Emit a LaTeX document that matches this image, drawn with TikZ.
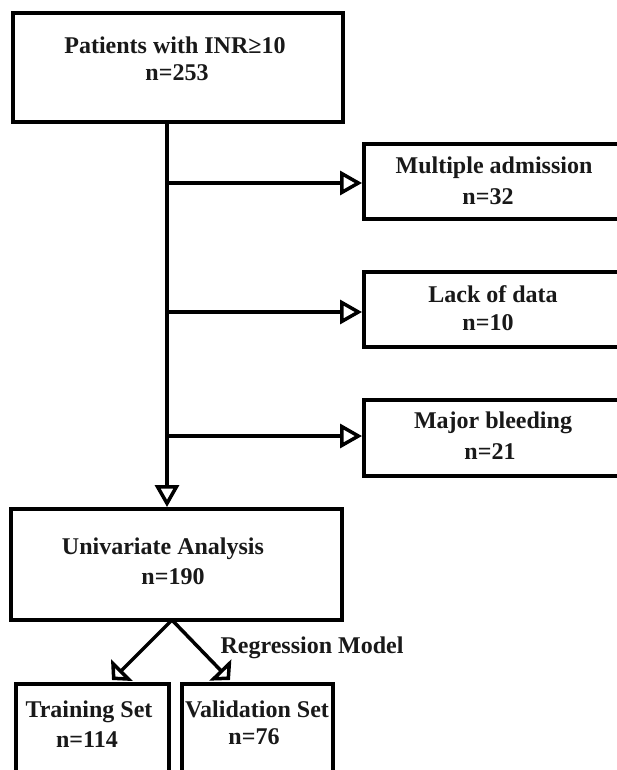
\documentclass[tikz,border=0pt]{standalone}
\usepackage{fontspec}
\setmainfont{Liberation Serif}
\usetikzlibrary{arrows.meta,calc}
\begin{document}
\begin{tikzpicture}[x=1pt,y=-1pt,
  box/.style={draw=black,line width=4pt,inner sep=0pt},
  txt/.style={font=\bfseries\fontsize{24}{29}\selectfont,inner sep=0pt,text=black!90},
  harrow/.style={line width=3.5pt,-{Triangle[open,length=22pt,width=24pt,line width=3.5pt]}},
  darrow/.style={line width=3.5pt,-{Triangle[open,length=14pt,width=30pt,line width=3.5pt]}}
]
\useasboundingbox[fill=white] (0,0) rectangle (617,770);
% boxes
\node[box,minimum width=330pt,minimum height=109pt] (top) at (178,67.5) {};
\node[box,minimum width=266pt,minimum height=75pt] (m1) at (497,181.5) {};
\node[box,minimum width=266pt,minimum height=75pt] (m2) at (497,309.5) {};
\node[box,minimum width=266pt,minimum height=76pt] (m3) at (497,438) {};
\node[box,minimum width=331pt,minimum height=111pt] (uni) at (176.5,564.5) {};
\node[box,minimum width=153pt,minimum height=116pt] (train) at (92.5,742) {};
\node[box,minimum width=151pt,minimum height=116pt] (valid) at (257.5,742) {};
% texts
\node[txt] (t1) at (175,45) {Patients with INR≥10};
\node[txt] (t1n) at (177,73) {n=253};
\node[txt] (t2) at (494,168) {Multiple admission};
\node[txt] (t2n) at (488,197) {n=32};
\node[txt] (t3) at (493,294) {Lack of data};
\node[txt] (t3n) at (488,323) {n=10};
\node[txt] (t4) at (493,423) {Major bleeding};
\node[txt] (t4n) at (490,452) {n=21};
\node[txt] (t5) at (163,549) {Univariate Analysis};
\node[txt] (t5n) at (173,577) {n=190};
\node[txt] (t6) at (89,712) {Training Set};
\node[txt] (t6n) at (87,740) {n=114};
\node[txt] (t7) at (257,709) {Validation Set};
\node[txt] (t7n) at (254,737) {n=76};
\node[txt] (reg) at (312,648) {Regression Model};
% connectors
\coordinate (v0) at (167,122);
\coordinate (b1) at (167,183);
\coordinate (b2) at (167,312);
\coordinate (b3) at (167,436);
\coordinate (split) at (172,620);
\coordinate (lt) at (112,680);
\coordinate (rt) at (230,680);
\draw[harrow] (v0) -- (v0 |- uni.north);
\draw[harrow] (b1) -- (b1 -| m1.west);
\draw[harrow] (b2) -- (b2 -| m2.west);
\draw[harrow] (b3) -- (b3 -| m3.west);
\draw[darrow] (split) -- (lt);
\draw[darrow] (split) -- (rt);
\end{tikzpicture}
\end{document}
